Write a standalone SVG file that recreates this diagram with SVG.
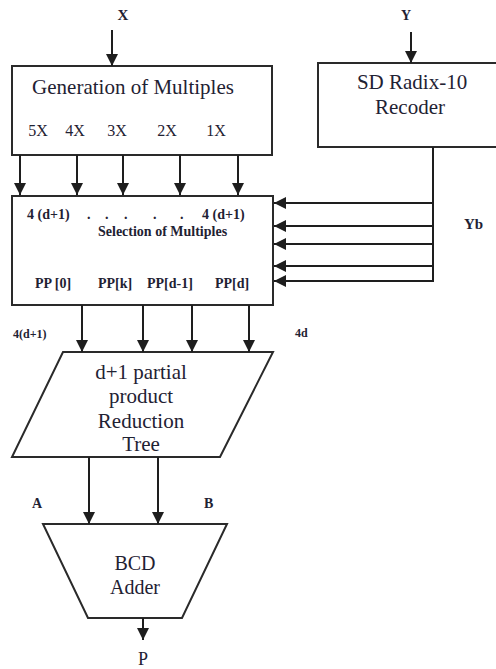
<svg xmlns="http://www.w3.org/2000/svg" width="496" height="669" viewBox="0 0 496 669">
<style>
.box{fill:#fff;stroke:#2a2a2a;stroke-width:2}
.ln{fill:none;stroke:#1e1e1e;stroke-width:2}
.t{font-family:"Liberation Serif","Times New Roman",serif;fill:#1f2233}
.big{font-size:21px}
.mid{font-size:16px}
.b{font-weight:bold}
.c{text-anchor:middle}
</style>
<defs>
<marker id="ah" markerUnits="userSpaceOnUse" markerWidth="12" markerHeight="12" refX="12" refY="6" orient="auto">
<path d="M0,0 L12,6 L0,12 z" fill="#1e1e1e"/>
</marker>
</defs>
<rect width="496" height="669" fill="#fff"/>

<g id="inX"><text class="t b c" x="123" y="20" font-size="15">X</text></g>
<g id="inY"><text class="t b c" x="406" y="20" font-size="14">Y</text></g>

<g id="gen">
<rect class="box" x="12" y="66" width="260" height="89"/>
<text class="t big c" x="133" y="94">Generation of Multiples</text>
<text class="t mid c" x="38" y="136">5X</text>
<text class="t mid c" x="75" y="136">4X</text>
<text class="t mid c" x="117" y="136">3X</text>
<text class="t mid c" x="167" y="136">2X</text>
<text class="t mid c" x="216" y="136">1X</text>
</g>

<g id="recoder">
<rect class="box" x="318" y="63" width="190" height="84"/>
<text class="t big c" x="412" y="89">SD Radix-10</text>
<text class="t big c" x="410" y="114">Recoder</text>
</g>

<g id="sel">
<rect class="box" x="12" y="196" width="261" height="109"/>
<text class="t b" x="27" y="219" font-size="14">4 (d+1)</text>
<text class="t b" x="87" y="219" font-size="14">.</text>
<text class="t b" x="105" y="219" font-size="14">.</text>
<text class="t b" x="124" y="219" font-size="14">.</text>
<text class="t b" x="153" y="219" font-size="14">.</text>
<text class="t b" x="180" y="219" font-size="14">.</text>
<text class="t b" x="202" y="219" font-size="14">4 (d+1)</text>
<text class="t b" x="98" y="236" font-size="14">Selection of Multiples</text>
<text class="t b" x="35" y="288" font-size="14">PP [0]</text>
<text class="t b" x="98" y="288" font-size="14">PP[k]</text>
<text class="t b" x="147" y="288" font-size="14">PP[d-1]</text>
<text class="t b" x="215" y="288" font-size="14">PP[d]</text>
</g>

<g id="tree">
<polygon class="box" points="63,352 273,352 220,457 12,457"/>
<text class="t c" x="141" y="379" font-size="21">d+1 partial</text>
<text class="t c" x="141" y="403" font-size="21">product</text>
<text class="t c" x="141" y="428" font-size="21">Reduction</text>
<text class="t c" x="141" y="451" font-size="21">Tree</text>
</g>

<g id="adder">
<polygon class="box" points="43,524 227,524 182,618 88,618"/>
<text class="t c" x="135" y="570" font-size="20">BCD</text>
<text class="t c" x="135" y="594" font-size="20">Adder</text>
</g>

<g id="labels">
<text class="t b" x="464" y="229" font-size="15">Yb</text>
<text class="t b" x="13" y="338" font-size="12">4(d+1)</text>
<text class="t b" x="295" y="337" font-size="12">4d</text>
<text class="t b" x="32" y="508" font-size="14">A</text>
<text class="t b" x="204" y="508" font-size="14">B</text>
<text class="t c" x="143" y="665" font-size="18">P</text>
</g>

<g id="connectors">
<line class="ln" x1="112" y1="30" x2="112" y2="66" marker-end="url(#ah)"/>
<line class="ln" x1="411" y1="32" x2="411" y2="63" marker-end="url(#ah)"/>
<line class="ln" x1="20" y1="155" x2="20" y2="195" marker-end="url(#ah)"/>
<line class="ln" x1="77" y1="155" x2="77" y2="195" marker-end="url(#ah)"/>
<line class="ln" x1="123" y1="155" x2="123" y2="195" marker-end="url(#ah)"/>
<line class="ln" x1="180" y1="155" x2="180" y2="195" marker-end="url(#ah)"/>
<line class="ln" x1="238" y1="155" x2="238" y2="195" marker-end="url(#ah)"/>
<line class="ln" x1="433" y1="147" x2="433" y2="282"/>
<line class="ln" x1="434" y1="203" x2="274" y2="203" marker-end="url(#ah)"/>
<line class="ln" x1="434" y1="226" x2="274" y2="226" marker-end="url(#ah)"/>
<line class="ln" x1="434" y1="244" x2="274" y2="244" marker-end="url(#ah)"/>
<line class="ln" x1="434" y1="266" x2="274" y2="266" marker-end="url(#ah)"/>
<line class="ln" x1="434" y1="281" x2="274" y2="281" marker-end="url(#ah)"/>
<line class="ln" x1="82" y1="305" x2="82" y2="352" marker-end="url(#ah)"/>
<line class="ln" x1="143" y1="305" x2="143" y2="352" marker-end="url(#ah)"/>
<line class="ln" x1="192" y1="305" x2="192" y2="352" marker-end="url(#ah)"/>
<line class="ln" x1="249" y1="305" x2="249" y2="352" marker-end="url(#ah)"/>
<line class="ln" x1="89" y1="457" x2="89" y2="524" marker-end="url(#ah)"/>
<line class="ln" x1="158" y1="457" x2="158" y2="524" marker-end="url(#ah)"/>
<line class="ln" x1="143" y1="618" x2="143" y2="640" marker-end="url(#ah)"/>
</g>
</svg>
